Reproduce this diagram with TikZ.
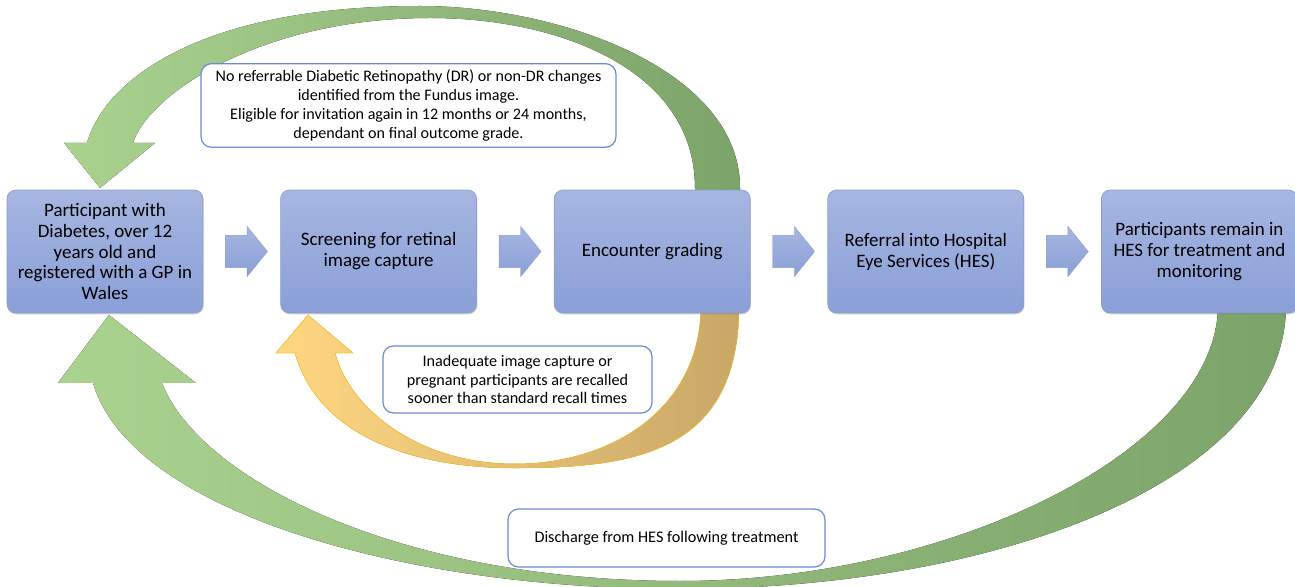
\documentclass[tikz,border=0pt]{standalone}
\usepackage{fontspec}
\setmainfont{Carlito}
\usetikzlibrary{shapes.arrows,shadows}

\definecolor{boxtop}{RGB}{167,182,225}
\definecolor{boxbot}{RGB}{137,159,215}
\definecolor{boxline}{RGB}{140,158,205}
\definecolor{noteline}{RGB}{105,140,212}
\definecolor{greenlt}{RGB}{170,210,143}
\definecolor{greendk}{RGB}{124,163,105}
\definecolor{yellowlt}{RGB}{255,215,130}
\definecolor{yellowdk}{RGB}{200,167,103}
\definecolor{goldline}{RGB}{255,196,40}

\begin{document}
\begin{tikzpicture}[
  x=0.02cm, y=-0.02cm,
  stage/.style={rectangle,rounded corners=5pt,minimum width=3.92cm,minimum height=2.46cm,
    top color=boxtop,bottom color=boxbot,draw=boxline,line width=0.4pt,align=center,
    font=\fontsize{10.8}{11.9}\selectfont,
    drop shadow={shadow xshift=0.4pt,shadow yshift=-0.8pt,opacity=0.3,fill=black!60}},
  flow/.style={single arrow,single arrow tip angle=102,single arrow head extend=0.18cm,
    inner xsep=0pt,inner ysep=0.32cm,minimum height=0.84cm,
    top color=boxtop,bottom color=boxbot,draw=boxline,line width=0.2pt,anchor=tail},
  note/.style={rectangle,rounded corners=6pt,draw=noteline,line width=0.7pt,fill=white,
    align=center},
  loopgreen/.style={left color=greenlt,right color=greendk},
  loopyellow/.style={left color=yellowlt,right color=yellowdk,draw=goldline,line width=0.3pt}
]
\useasboundingbox (0,0) rectangle (1295,587);

% ---- return loops (behind everything) ----
% no referable changes: grading back to participant
\fill[loopgreen]
  (87,143) .. controls (105,80) and (200,6) .. (420,6)
           .. controls (560,6) and (740,70) .. (740,188) -- (740,200)
  -- (695,200) -- (695,188)
           .. controls (695,70) and (560,18) .. (430,18)
           .. controls (260,18) and (148,95) .. (133,143)
  -- (155,143) -- (100,188) -- (64,143) -- cycle;

% recall: grading back to screening
\filldraw[loopyellow]
  (295,353) .. controls (320,440) and (420,468) .. (515,468)
            .. controls (640,468) and (739,450) .. (739,305)
  -- (701,305)
            .. controls (701,410) and (610,464) .. (515,464)
            .. controls (420,464) and (350,410) .. (335,353)
  -- (353,353) -- (308,315) -- (276,353) -- cycle;

% discharge: HES back to participant
\fill[loopgreen]
  (93,383) .. controls (130,510) and (400,589) .. (680,589)
           .. controls (1000,589) and (1286,480) .. (1286,305)
  -- (1218,305)
           .. controls (1218,450) and (950,581) .. (680,581)
           .. controls (400,581) and (200,480) .. (162,383)
  -- (196,383) -- (109,315) -- (58,383) -- cycle;

% ---- pathway stages ----
\node[stage] (part)   at (105,251.5)   {Participant with\\Diabetes, over 12\\years old and\\registered with a GP in\\Wales};
\node[stage] (screen) at (378.6,251.5) {Screening for retinal\\image capture};
\node[stage] (grade)  at (652.2,251.5) {Encounter grading};
\node[stage] (refer)  at (925.8,251.5) {Referral into Hospital\\Eye Services (HES)};
\node[stage] (remain) at (1199.4,251.5) {Participants remain in\\HES for treatment and\\monitoring};

% forward arrows between stages
\node[flow] (f1) at ([xshift=0.44cm]part.east)   {};
\node[flow] (f2) at ([xshift=0.44cm]screen.east) {};
\node[flow] (f3) at ([xshift=0.44cm]grade.east)  {};
\node[flow] (f4) at ([xshift=0.44cm]refer.east)  {};

% ---- loop notes ----
\node[note,minimum width=8.3cm,minimum height=1.54cm,font=\fontsize{9.15}{10.9}\selectfont]
  (noref) at (408.5,105.5)
  {No referrable Diabetic Retinopathy (DR) or non-DR changes\\identified from the Fundus image.\\
   Eligible for invitation again in 12 months or 24 months,\\dependant on final outcome grade.};
\node[note,minimum width=5.38cm,minimum height=1.34cm,font=\fontsize{9.2}{10.5}\selectfont]
  (recall) at (517.5,379.5)
  {Inadequate image capture or\\pregnant participants are recalled\\sooner than standard recall times};
\node[note,minimum width=6.34cm,minimum height=1.16cm,font=\fontsize{9.25}{10.5}\selectfont]
  (discharge) at (666.5,538) {Discharge from HES following treatment};

\end{tikzpicture}
\end{document}
